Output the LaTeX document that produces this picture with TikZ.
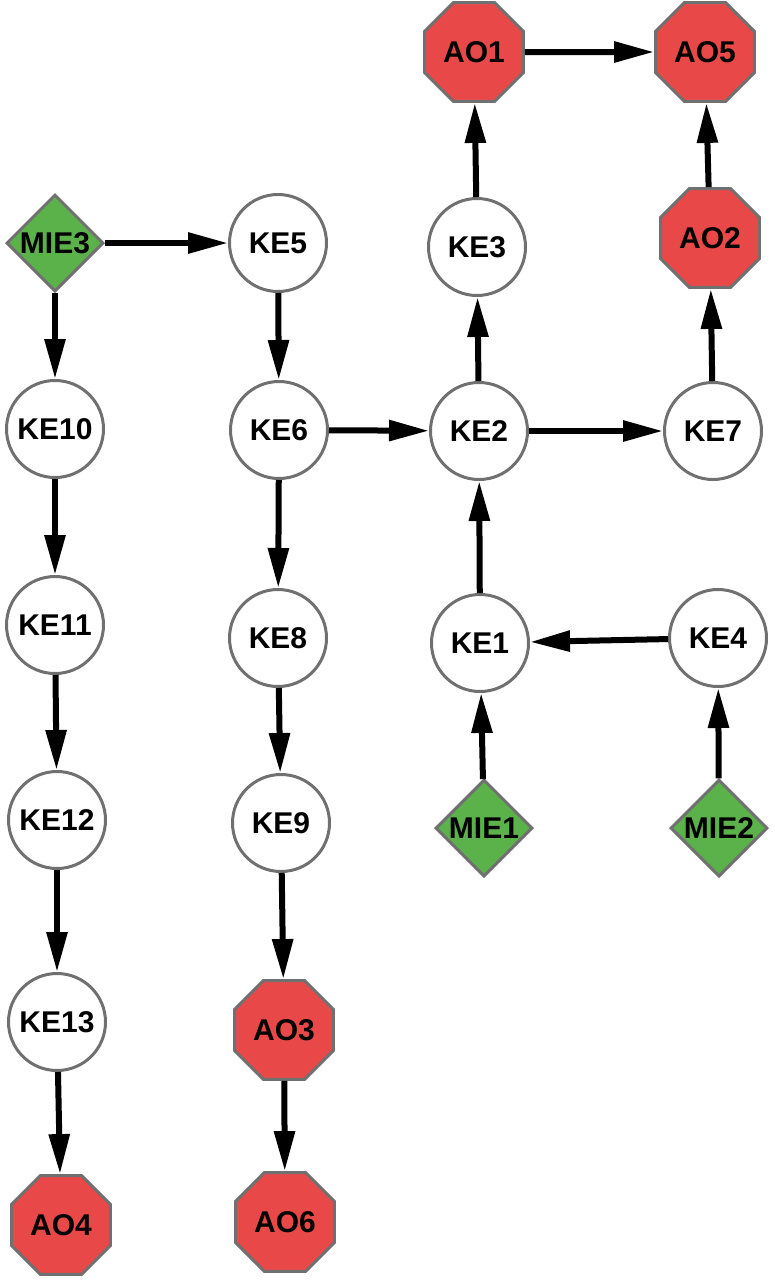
\documentclass[tikz,border=0pt]{standalone}
\usepackage{fontspec}
\setmainfont{Liberation Sans}
\usetikzlibrary{arrows.meta,shapes.geometric}
\definecolor{aored}{RGB}{232,72,72}
\definecolor{miegreen}{RGB}{92,178,74}
\definecolor{bordergray}{RGB}{112,112,112}
\begin{document}
\begin{tikzpicture}[x=1pt,y=-1pt,
  every node/.style={font=\fontsize{30}{36}\selectfont\bfseries, text=black, line width=3pt, draw=bordergray, inner sep=0pt},
  ke/.style={circle, fill=white, minimum size=97pt},
  ao/.style={regular polygon, regular polygon sides=8, fill=aored, minimum size=107pt},
  mie/.style={diamond, fill=miegreen, minimum width=97pt, minimum height=97pt},
  edge/.style={line width=6pt, -{Triangle[length=40pt,width=20pt]}}]
\useasboundingbox (0,0) rectangle (774,1280);
\node[mie] (MIE3) at (55,243) {MIE3};
\node[ke] (KE5) at (278,243) {KE5};
\node[ke] (KE10) at (55,429) {KE10};
\node[ke] (KE6) at (279,430) {KE6};
\node[ke] (KE11) at (55,625) {KE11};
\node[ke] (KE8) at (278,638) {KE8};
\node[ke] (KE12) at (57,820) {KE12};
\node[ke] (KE9) at (281,823) {KE9};
\node[ke] (KE13) at (57,1022) {KE13};
\node[ao] (AO3) at (284,1030) {AO3};
\node[ao] (AO4) at (61,1225) {AO4};
\node[ao] (AO6) at (285,1222) {AO6};
\node[ao] (AO1) at (474,52) {AO1};
\node[ao] (AO5) at (705,52) {AO5};
\node[ke] (KE3) at (477,247) {KE3};
\node[ao] (AO2) at (710,238) {AO2};
\node[ke] (KE2) at (479,431) {KE2};
\node[ke] (KE7) at (713,431) {KE7};
\node[ke] (KE1) at (480,643) {KE1};
\node[ke] (KE4) at (718,638) {KE4};
\node[mie] (MIE1) at (484,828) {MIE1};
\node[mie] (MIE2) at (719,828) {MIE2};
\draw[edge] (MIE3) -- (KE5);
\draw[edge] (MIE3) -- (KE10);
\draw[edge] (KE5) -- (KE6);
\draw[edge] (KE10) -- (KE11);
\draw[edge] (KE11) -- (KE12);
\draw[edge] (KE12) -- (KE13);
\draw[edge] (KE13) -- (AO4);
\draw[edge] (KE6) -- (KE2);
\draw[edge] (KE6) -- (KE8);
\draw[edge] (KE8) -- (KE9);
\draw[edge] (KE9) -- (AO3);
\draw[edge] (AO3) -- (AO6);
\draw[edge] (KE2) -- (KE3);
\draw[edge] (KE3) -- (AO1);
\draw[edge] (AO1) -- (AO5);
\draw[edge] (KE2) -- (KE7);
\draw[edge] (KE7) -- (AO2);
\draw[edge] (AO2) -- (AO5);
\draw[edge] (KE1) -- (KE2);
\draw[edge] (KE4) -- (KE1);
\draw[edge] (MIE1) -- (KE1);
\draw[edge] (MIE2) -- (KE4);
\end{tikzpicture}
\end{document}
